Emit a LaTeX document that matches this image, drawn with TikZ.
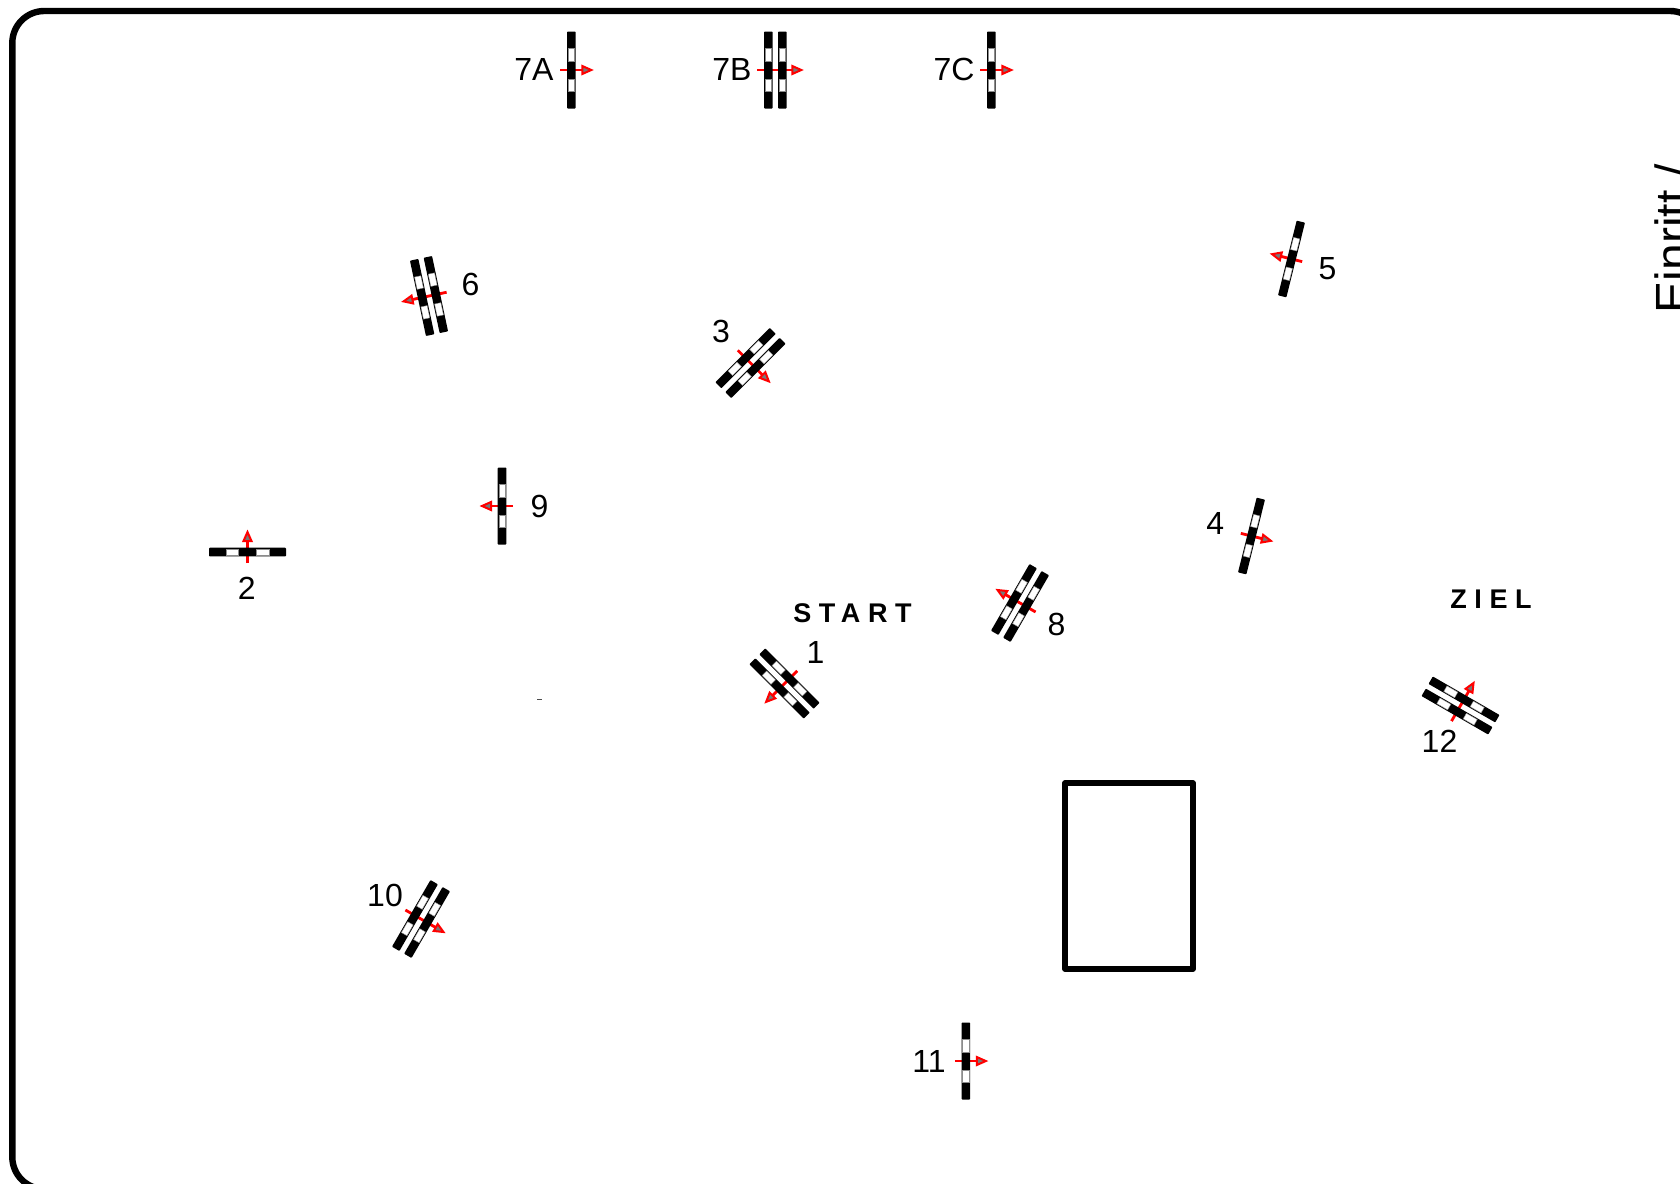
\documentclass[tikz,border=0pt]{standalone}
\usepackage{fontspec}
\setmainfont{Liberation Sans}
\newfontfamily\spacedbold[LetterSpace=28,Ligatures=NoCommon]{Liberation Sans Bold}
\definecolor{arrowgray}{RGB}{120,120,120}
\newcommand{\gatebar}[1]{%
  \fill[barblack] (#1-4.3,-38.5) rectangle (#1+4.3,38.5);
  \path[barwin] (#1-3.2,-21.5) rectangle (#1+3.2,-9);
  \path[barwin] (#1-3.2,9) rectangle (#1+3.2,21.5);
}
\tikzset{
  x=1pt,y=-1pt,
  numlabel/.style={inner sep=0pt,font=\fontsize{32}{32}\selectfont,text=black},
  zonelabel/.style={inner sep=0pt,font=\fontsize{27}{27}\spacedbold,text=black},
  barblack/.style={fill=black,rounded corners=0.8pt},
  barwin/.style={fill=white,draw=black!45,line width=0.4pt},
  arrowshaft/.style={draw=red,line width=2.8pt},
  arrowhead/.style={draw=red,fill=arrowgray,line width=2pt,line join=miter},
  gatesingle/.pic={
    \draw[arrowshaft] (-11,0) -- (12,0);
    \draw[arrowhead] (20,0) -- (11,-4) -- (11,4) -- cycle;
    \gatebar{0}
  },
  gatedouble/.pic={
    \draw[arrowshaft] (-18,0) -- (18,0);
    \draw[arrowhead] (26,0) -- (17,-4) -- (17,4) -- cycle;
    \gatebar{-7}
    \gatebar{7}
  }
}
\begin{document}
\begin{tikzpicture}
\useasboundingbox (0,0) rectangle (1680,1183);
\clip (0,0) rectangle (1680,1183);
\fill[white] (0,0) rectangle (1680,1183);
% outer frame (runs off the page at right and bottom)
\draw[line width=6.4pt,rounded corners=32pt] (12.3,11) rectangle (1702,1189);
% building
\draw[line width=5.5pt,line join=round] (1065,783) rectangle (1193,969);
% gates
\pic (g7a) [rotate=0]   at (571.3,70)   {gatesingle};
\pic (g7b) [rotate=0]   at (775.3,70)   {gatedouble};
\pic (g7c) [rotate=0]   at (991.3,70)   {gatesingle};
\pic (g5)  [rotate=166] at (1291.5,259) {gatesingle};
\pic (g6)  [rotate=192] at (429,296)    {gatedouble};
\pic (g3)  [rotate=-45] at (750.5,363)  {gatedouble};
\pic (g9)  [rotate=180] at (502,506)    {gatesingle};
\pic (g2)  [rotate=90]  at (247.5,552)  {gatesingle};
\pic (g4)  [rotate=-14] at (1251.5,536) {gatesingle};
\pic (g8)  [rotate=150] at (1020,603)   {gatedouble};
\pic (g1)  [rotate=225] at (784.5,683.5){gatedouble};
\pic (g12) [rotate=60]  at (1460.5,705.5){gatedouble};
\pic (g10) [rotate=-30] at (421,919)    {gatedouble};
\pic (g11) [rotate=0]   at (965.8,1061) {gatesingle};
% tiny mark
\fill[black!70] (537,698.6) rectangle (541.5,700);
% labels
\node[numlabel] (l7a) at (534,69.5)  {7A};
\node[numlabel] (l7b) at (732,69.5)  {7B};
\node[numlabel] (l7c) at (954,69.5)  {7C};
\node[numlabel] (l6)  at (470.5,284.5) {6};
\node[numlabel] (l3)  at (721,331.5) {3};
\node[numlabel] (l5)  at (1327.5,268.5) {5};
\node[numlabel] (l9)  at (539.5,506.5) {9};
\node[numlabel] (l2)  at (246.7,588) {2};
\node[numlabel] (l4)  at (1215.3,523.5) {4};
\node[numlabel] (l8)  at (1056.5,624.5) {8};
\node[numlabel] (l1)  at (815.5,652) {1};
\node[numlabel] (l12) at (1439.5,741) {12};
\node[numlabel] (l10) at (385,895.5) {10};
\node[numlabel] (l11) at (929,1061.5) {11};
\node[zonelabel] (start) at (852.5,613) {START};
\node[zonelabel] (ziel) at (1491,599) {ZIEL};
\node[inner sep=0pt,anchor=base west,rotate=90,font=\fontsize{48}{48}\selectfont] (ein) at (1689.4,313.5) {Einritt /};
\end{tikzpicture}
\end{document}
